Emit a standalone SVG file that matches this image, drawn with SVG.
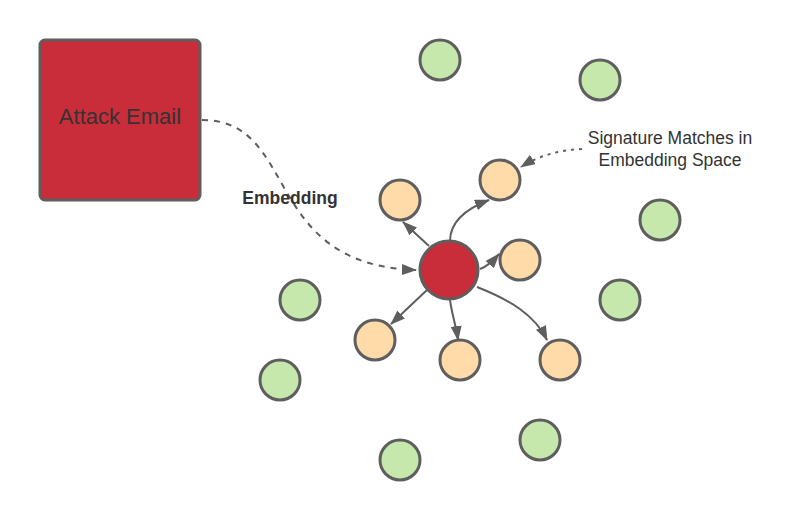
<svg xmlns="http://www.w3.org/2000/svg" width="800" height="520" viewBox="0 0 800 520">
<style>
.n{stroke:#5e5e5e;stroke-width:3}
.g{fill:#c7e8ac}
.o{fill:#ffdba9}
.r{fill:#c92d39}
.c{fill:none;stroke:#5e5e5e;stroke-width:2}
.t{font-family:"Liberation Sans",Arial,sans-serif;fill:#333;text-anchor:middle}
</style>
<defs>
<marker id="a" viewBox="0 0 15 11" refX="14" refY="5.5" markerWidth="15" markerHeight="11" markerUnits="userSpaceOnUse" orient="auto">
<path d="M0,0L15,5.5L0,11z" fill="#5e5e5e"/>
</marker>
</defs>
<rect width="800" height="520" fill="#fff"/>
<g id="connectors">
<path class="c" d="M202,120 C300,120 260,265 416,270" stroke-dasharray="6,6" marker-end="url(#a)"/>
<path class="c" d="M582,149 C560,150 540,155 521,167" stroke-dasharray="3,5" marker-end="url(#a)"/>
<path class="c" d="M429,246 L403,222" marker-end="url(#a)"/>
<path class="c" d="M450,241 C450,220 468,208 489,200" marker-end="url(#a)"/>
<path class="c" d="M480,269 C486,267 492,262 499,254" marker-end="url(#a)"/>
<path class="c" d="M427,290 L391,324" marker-end="url(#a)"/>
<path class="c" d="M450,300 C452,315 456,325 458,340" marker-end="url(#a)"/>
<path class="c" d="M477,287 C510,300 535,315 547,340" marker-end="url(#a)"/>
</g>
<g id="attack-email">
<rect class="n r" x="40" y="40" width="160" height="160" rx="5"/>
<text class="t" x="120" y="124" font-size="22">Attack Email</text>
</g>
<g id="embedding-label"><text class="t" x="290" y="204" font-size="17.5" font-weight="bold">Embedding</text></g>
<g id="signature-label">
<text class="t" x="670" y="144" font-size="17.5">Signature Matches in</text>
<text class="t" x="670" y="166" font-size="17.5">Embedding Space</text>
</g>
<g id="center"><circle class="n r" cx="449" cy="270" r="29"/></g>
<g id="m1"><circle class="n o" cx="400" cy="200" r="20"/></g>
<g id="m2"><circle class="n o" cx="500" cy="180" r="20"/></g>
<g id="m3"><circle class="n o" cx="520" cy="260" r="20"/></g>
<g id="m4"><circle class="n o" cx="375" cy="340" r="20"/></g>
<g id="m5"><circle class="n o" cx="460" cy="360" r="20"/></g>
<g id="m6"><circle class="n o" cx="560" cy="360" r="20"/></g>
<g id="g1"><circle class="n g" cx="440" cy="60" r="20"/></g>
<g id="g2"><circle class="n g" cx="600" cy="80" r="20"/></g>
<g id="g3"><circle class="n g" cx="660" cy="220" r="20"/></g>
<g id="g4"><circle class="n g" cx="620" cy="300" r="20"/></g>
<g id="g5"><circle class="n g" cx="300" cy="300" r="20"/></g>
<g id="g6"><circle class="n g" cx="280" cy="380" r="20"/></g>
<g id="g7"><circle class="n g" cx="400" cy="460" r="20"/></g>
<g id="g8"><circle class="n g" cx="540" cy="440" r="20"/></g>
</svg>
